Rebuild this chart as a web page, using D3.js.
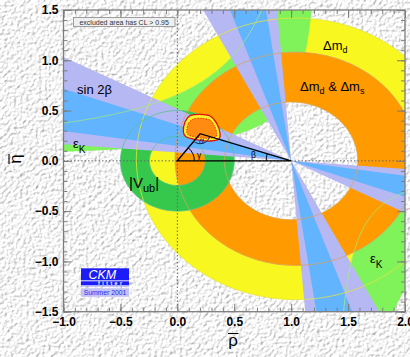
<!DOCTYPE html>
<html><head><meta charset="utf-8">
<script src="https://cdn.jsdelivr.net/npm/d3@7"></script>
<style>body{margin:0;background:#e6e6e6;} svg{display:block}</style>
</head><body><svg id="c" width="410" height="357"></svg>
<script>
// ---------------- data ----------------
const xTickValues = [-1.0, -0.5, 0.0, 0.5, 1.0, 1.5, 2.0];
const yTickValues = [-1.5, -1.0, -0.5, 0.0, 0.5, 1.0, 1.5];
const minorTickStep = 0.1;

// Delta m_d ring (yellow) and Delta m_d & Delta m_s ring (orange): [centerRho, centerEta, radius]
const dmdOuter   = [1.04, 0.02, 1.40];
const dmsOuter   = [1.04, 0.02, 1.06];
const ringHole   = [1.00, 0.00, 0.585];
// |Vub| ring around the origin: [innerRadius, outerRadius]
const vubRadii   = [0.245, 0.50];
// epsilon_K hyperbolic band  eta*(c - rho) = K
const epsKCentre = 1.32;
const epsKBounds = [0.21, 0.87];
// sin 2beta wedges from (1,0): beta ranges in degrees
const sin2bOuter = [4.7, 27.3];
const sin2bInner = [8.4, 19.7];
// fit result contour
const fitOuterRho = [0.053, 0.068, 0.112, 0.199, 0.287, 0.346, 0.375, 0.360, 0.258, 0.155, 0.076];
const fitOuterEta = [0.290, 0.390, 0.449, 0.463, 0.446, 0.373, 0.274, 0.214, 0.197, 0.214, 0.240];
const fitInnerRho = [0.083, 0.097, 0.141, 0.214, 0.287, 0.325, 0.346, 0.331, 0.243, 0.155, 0.097];
const fitInnerEta = [0.297, 0.373, 0.416, 0.423, 0.406, 0.350, 0.274, 0.234, 0.224, 0.237, 0.257];
// unitarity triangle apex
const apex = [0.20, 0.27];

// ---------------- drawing ----------------
const svg = d3.select("#c");
const W = 410, H = 357;
const x = d3.scaleLinear().domain([-1, 2]).range([63.5, 405]);
const y = d3.scaleLinear().domain([-1.5, 1.5]).range([311.7, 10]);
const FONT = "'Liberation Sans', Arial, Helvetica, sans-serif";

const defs = svg.append("defs");
const f = defs.append("filter").attr("id", "paper").attr("filterUnits", "userSpaceOnUse")
  .attr("x", 0).attr("y", 0).attr("width", W).attr("height", H);
f.append("feTurbulence").attr("type", "fractalNoise").attr("baseFrequency", 0.32)
  .attr("numOctaves", 2).attr("seed", 5).attr("result", "n");
const dl = f.append("feDiffuseLighting").attr("in", "n").attr("surfaceScale", 1.8)
  .attr("diffuseConstant", 1.12).attr("lighting-color", "#ffffff");
dl.append("feDistantLight").attr("azimuth", 225).attr("elevation", 58);

defs.append("clipPath").attr("id", "plot").append("rect")
  .attr("x", x(-1)).attr("y", y(1.5)).attr("width", x(2) - x(-1)).attr("height", y(-1.5) - y(1.5));

svg.append("rect").attr("width", W).attr("height", H).attr("filter", "url(#paper)");

const g = svg.append("g").attr("clip-path", "url(#plot)");
const line = d3.line().x(d => x(d[0])).y(d => y(d[1]));
const closed = d3.line().x(d => x(d[0])).y(d => y(d[1])).curve(d3.curveLinearClosed);

function circlePts(cx, cy, r) {
  return d3.range(0, 361, 1.5).map(t => [cx + r * Math.cos(t * Math.PI / 180), cy + r * Math.sin(t * Math.PI / 180)]);
}
function annulus(outer, inner) {
  return closed(circlePts(outer[0], outer[1], outer[2])) + closed(circlePts(inner[0], inner[1], inner[2]));
}

// yellow Delta m_d
g.append("path").attr("d", annulus(dmdOuter, ringHole)).attr("fill", "#f8f820").attr("fill-rule", "evenodd");

// epsilon_K band
function epsBand() {
  const c = epsKCentre, k1 = epsKBounds[0], k2 = epsKBounds[1], lim = 1.8;
  const u1 = d3.range(-1.1, c - k1 / lim, 0.004).map(r => [r, k1 / (c - r)]).concat([[c - k1 / lim, lim]]);
  const u2 = d3.range(-1.1, c - k2 / lim, 0.004).map(r => [r, k2 / (c - r)]).concat([[c - k2 / lim, lim]]);
  const l1 = [[c + k1 / lim, -lim]].concat(d3.range(c + k1 / lim, 2.1, 0.004).map(r => [r, -k1 / (r - c)]));
  const l2 = [[c + k2 / lim, -lim]].concat(d3.range(c + k2 / lim, 2.1, 0.004).map(r => [r, -k2 / (r - c)]));
  return { up: u1.concat(u2.slice().reverse()), lo: l1.concat(l2.slice().reverse()), u1, u2, l1, l2 };
}
const eps = epsBand();
g.append("path").attr("d", closed(eps.up)).attr("fill", "#80f25a");
g.append("path").attr("d", closed(eps.lo)).attr("fill", "#80f25a");

// orange Delta m_d & Delta m_s
g.append("path").attr("d", annulus(dmsOuter, ringHole)).attr("fill", "#ff9a00").attr("fill-rule", "evenodd");

// |Vub| ring
g.append("path").attr("d", annulus([0, 0, vubRadii[1]], [0, 0, vubRadii[0]]))
  .attr("fill", "#36c84c").attr("fill-rule", "evenodd");

// sin 2beta wedges
function wedgePath(b) {
  const L = 6, c = [1, 0];
  const p = a => [c[0] + L * Math.cos(a * Math.PI / 180), c[1] + L * Math.sin(a * Math.PI / 180)];
  let d = "";
  [[180 - b[1], 180 - b[0]], [90 + b[0], 90 + b[1]]].forEach(([a1, a2]) => {
    d += closed([c, p(a1), p(a2)]) + closed([c, p(a1 + 180), p(a2 + 180)]);
  });
  return d;
}
g.append("path").attr("d", wedgePath(sin2bOuter)).attr("fill", "#b6b8f4");
g.append("path").attr("d", wedgePath(sin2bInner)).attr("fill", "#62b4ff");

// thin outlines of the constraints
const outl = g.append("g").attr("fill", "none").attr("stroke-width", 0.8);
outl.append("path").attr("d", closed(circlePts(dmdOuter[0], dmdOuter[1], dmdOuter[2]))).attr("stroke", "#e4e43a");
outl.append("path").attr("d", closed(circlePts(dmsOuter[0], dmsOuter[1], dmsOuter[2]))).attr("stroke", "#d8a262");
outl.append("path").attr("d", closed(circlePts(ringHole[0], ringHole[1], ringHole[2]))).attr("stroke", "#d8a262");
vubRadii.forEach(r => outl.append("path").attr("d", closed(circlePts(0, 0, r))).attr("stroke", "#58c08a"));
outl.append("path").attr("d", line(eps.u2)).attr("stroke", "#a6ee7a");
outl.append("path").attr("d", line(eps.l1)).attr("stroke", "#a6ee7a");

// fit contour
const outerPts = fitOuterRho.map((r, i) => [r, fitOuterEta[i]]);
const innerPts = fitInnerRho.map((r, i) => [r, fitInnerEta[i]]);
const smooth = d3.line().x(d => x(d[0])).y(d => y(d[1])).curve(d3.curveCardinalClosed.tension(0.2));
g.append("path").attr("d", smooth(outerPts)).attr("fill", "#fff22a").attr("stroke", "#e01010").attr("stroke-width", 1.3);
g.append("path").attr("d", smooth(innerPts)).attr("fill", "#ff8c10").attr("stroke", "#e02010")
  .attr("stroke-width", 0.9).attr("stroke-dasharray", "1.5,1.2");

// dotted axes lines
g.append("line").attr("x1", x(0)).attr("x2", x(0)).attr("y1", y(1.5)).attr("y2", y(-1.5))
  .attr("stroke", "#666").attr("stroke-width", 1).attr("stroke-dasharray", "1.5,2");
g.append("line").attr("x1", x(-1)).attr("x2", x(2)).attr("y1", y(0)).attr("y2", y(0))
  .attr("stroke", "#666").attr("stroke-width", 1).attr("stroke-dasharray", "1.5,2");

// unitarity triangle
const O = [0, 0], B = [1, 0];
g.append("path").attr("d", closed([O, B, apex])).attr("fill", "none").attr("stroke", "#000").attr("stroke-width", 1.4);
function angArc(v, p1, p2, r, color) {
  const a1 = Math.atan2(y(p1[1]) - y(v[1]), x(p1[0]) - x(v[0]));
  const a2 = Math.atan2(y(p2[1]) - y(v[1]), x(p2[0]) - x(v[0]));
  const pth = d3.path();
  let s = Math.min(a1, a2), e = Math.max(a1, a2);
  if (e - s > Math.PI) { const t = s; s = e; e = t + 2 * Math.PI; }
  pth.arc(x(v[0]), y(v[1]), r, s, e);
  g.append("path").attr("d", pth.toString()).attr("fill", "none").attr("stroke", color).attr("stroke-width", 1);
}
angArc(O, B, apex, 17, "#000");
angArc(apex, O, B, 10, "#1b2a70");
angArc(B, apex, O, 25, "#000");
const angLbl = [["γ", 197, 158, "#000"], ["α", 199, 144, "#1b2a70"], ["β", 251, 158, "#000"]];
angLbl.forEach(d => g.append("text").attr("x", d[1]).attr("y", d[2]).text(d[0])
  .attr("font-family", FONT).attr("font-size", 8.5).attr("fill", d[3]));

// frame and axes
const ax = svg.append("g").attr("font-family", FONT);
function styleAxis(sel, labels) {
  sel.select(".domain").remove();
  sel.selectAll(".tick line").attr("stroke", "#7d7d7d").attr("stroke-width", 1);
  if (labels) sel.selectAll(".tick text").attr("font-weight", "bold").attr("font-size", 12)
    .attr("fill", "#000").attr("font-family", FONT);
  else sel.selectAll(".tick text").remove();
}
const minorX = d3.range(-10, 21).map(i => i * minorTickStep);
const minorY = d3.range(-15, 16).map(i => i * minorTickStep);
const fmt = d3.format(".1f");
[[d3.axisBottom(x).tickValues(xTickValues).tickSize(-8).tickPadding(6).tickFormat(fmt), `translate(0,${y(-1.5)})`, true],
 [d3.axisBottom(x).tickValues(minorX).tickSize(-4).tickFormat(""), `translate(0,${y(-1.5)})`, false],
 [d3.axisTop(x).tickValues(xTickValues).tickSize(-8), `translate(0,${y(1.5)})`, false],
 [d3.axisTop(x).tickValues(minorX).tickSize(-4), `translate(0,${y(1.5)})`, false],
 [d3.axisLeft(y).tickValues(yTickValues).tickSize(-8).tickPadding(5).tickFormat(fmt), `translate(${x(-1)},0)`, true],
 [d3.axisLeft(y).tickValues(minorY).tickSize(-4).tickFormat(""), `translate(${x(-1)},0)`, false],
 [d3.axisRight(y).tickValues(yTickValues).tickSize(-8), `translate(${x(2)},0)`, false],
 [d3.axisRight(y).tickValues(minorY).tickSize(-4), `translate(${x(2)},0)`, false]
].forEach(([a, t, lab]) => { const s = ax.append("g").attr("transform", t).call(a); styleAxis(s, lab); });
svg.append("rect").attr("x", x(-1)).attr("y", y(1.5)).attr("width", x(2) - x(-1)).attr("height", y(-1.5) - y(1.5))
  .attr("fill", "none").attr("stroke", "#7d7d7d").attr("stroke-width", 1.3);

// axis titles
svg.append("text").attr("x", 233).attr("y", 346).attr("text-anchor", "middle").attr("font-family", FONT)
  .attr("font-size", 17).text("ρ");
svg.append("line").attr("x1", 228).attr("x2", 238.5).attr("y1", 333.5).attr("y2", 333.5).attr("stroke", "#000").attr("stroke-width", 1.1);
const yt = svg.append("g").attr("transform", "translate(21,159) rotate(-90)");
yt.append("text").attr("x", 0).attr("y", 0).attr("text-anchor", "middle").attr("font-family", FONT).attr("font-size", 17).text("η");
yt.append("line").attr("x1", -5).attr("x2", 5).attr("y1", -12).attr("y2", -12).attr("stroke", "#000").attr("stroke-width", 1.1);

// legend box
svg.append("rect").attr("x", 73.5).attr("y", 17.5).attr("width", 101.5).attr("height", 9)
  .attr("fill", "#efefef").attr("stroke", "#8a8a8a").attr("stroke-width", 0.8);
svg.append("text").attr("x", 124.2).attr("y", 24.6).attr("text-anchor", "middle").attr("font-family", FONT)
  .attr("font-size", 7).attr("fill", "#333").text("excluded area has CL > 0.95");

// constraint labels
const T = (xx, yy, fs) => svg.append("text").attr("x", xx).attr("y", yy).attr("font-family", FONT).attr("font-size", fs).attr("fill", "#000");
let t = T(323, 50, 13); t.append("tspan").text("Δm"); t.append("tspan").attr("dy", 3).attr("font-size", 9).text("d");
t = T(300, 91, 13); t.append("tspan").text("Δm"); t.append("tspan").attr("dy", 3).attr("font-size", 9).text("d");
t.append("tspan").attr("dy", -3).text(" & Δm"); t.append("tspan").attr("dy", 3).attr("font-size", 9).text("s");
T(77, 94, 13).text("sin 2β");
t = T(73, 148, 13); t.append("tspan").text("ε"); t.append("tspan").attr("dy", 5).attr("font-size", 10).text("K");
t = T(370, 263, 13); t.append("tspan").text("ε"); t.append("tspan").attr("dy", 5).attr("font-size", 10).text("K");
t = T(129, 188, 15); t.append("tspan").text("|V"); t.append("tspan").attr("dy", 4).attr("font-size", 11).text("ub");
t.append("tspan").attr("dy", -4).text("|");

// CKMfitter logo
svg.append("rect").attr("x", 81).attr("y", 268.3).attr("width", 48).attr("height", 18).attr("fill", "#1c1cf6");
svg.append("text").attr("x", 88.5).attr("y", 278.8).attr("font-family", FONT).attr("font-style", "italic")
  .attr("font-size", 12.5).attr("fill", "#fff").text("CKM");
svg.append("line").attr("x1", 81).attr("x2", 129).attr("y1", 280.8).attr("y2", 280.8).attr("stroke", "#fff").attr("stroke-width", 0.9);
svg.append("line").attr("x1", 81).attr("x2", 129).attr("y1", 285.8).attr("y2", 285.8).attr("stroke", "#fff").attr("stroke-width", 0.9);
svg.append("text").attr("x", 98).attr("y", 285.4).attr("font-family", FONT).attr("font-weight", "bold")
  .attr("font-size", 5.2).attr("letter-spacing", 2.5).attr("fill", "#fff").text("fitter");
svg.append("rect").attr("x", 81).attr("y", 288.3).attr("width", 48).attr("height", 8.5).attr("fill", "#c2c2f4");
svg.append("text").attr("x", 105).attr("y", 295.2).attr("text-anchor", "middle").attr("font-family", FONT)
  .attr("font-size", 6.8).attr("fill", "#2a2af0").text("Summer 2001");
</script></body></html>
